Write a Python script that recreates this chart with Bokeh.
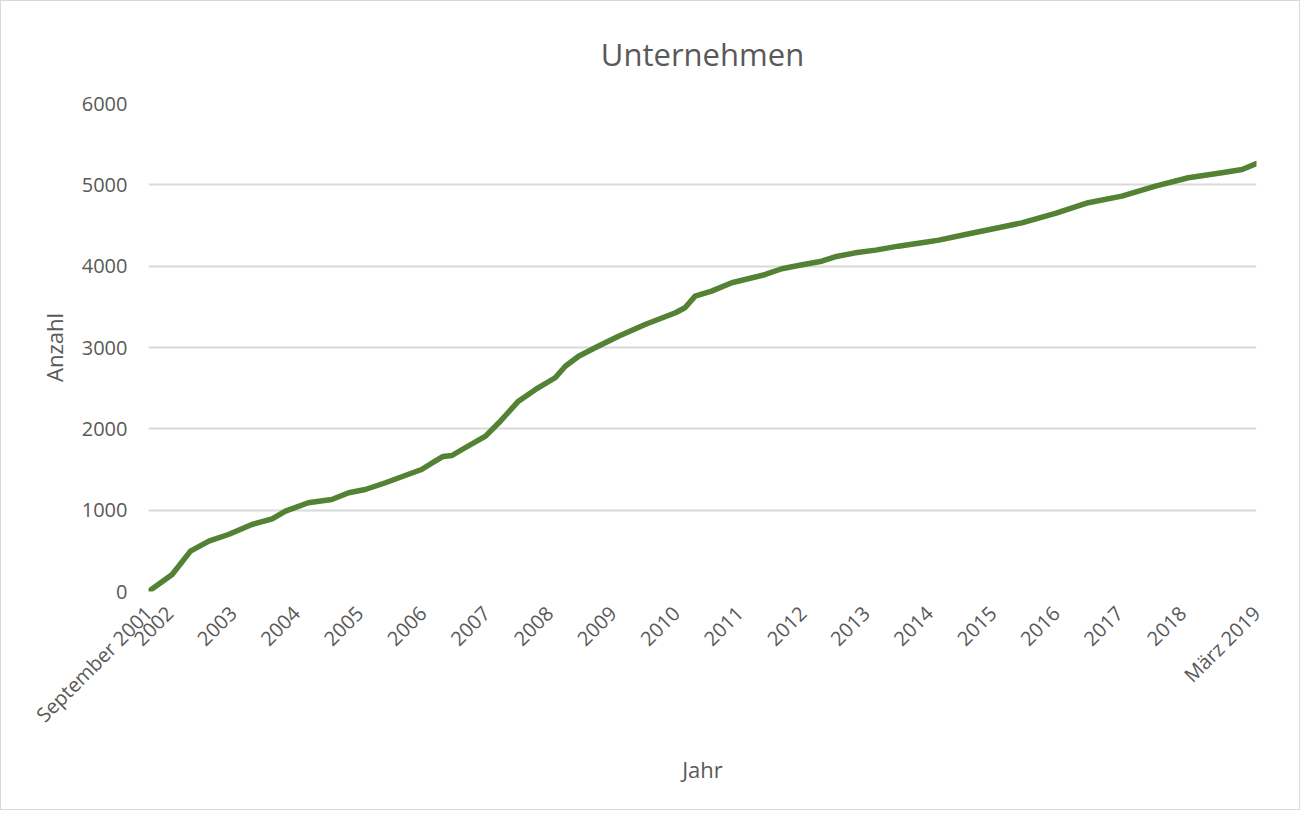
from bokeh.plotting import figure
from bokeh.models import Range1d, FixedTicker, ColumnDataSource
from bokeh.embed import file_html
from bokeh.resources import INLINE

# Data (decimal year, number of companies)
jahr = [2001.67, 2002.04, 2002.33, 2002.62, 2002.93, 2003.30, 2003.62, 2003.83,
        2004.19, 2004.56, 2004.83, 2005.09, 2005.41, 2005.72, 2005.98, 2006.20,
        2006.32, 2006.46, 2006.62, 2006.99, 2007.20, 2007.51, 2007.78, 2008.09,
        2008.25, 2008.46, 2008.72, 2009.09, 2009.51, 2009.99, 2010.14, 2010.30,
        2010.56, 2010.88, 2011.41, 2011.67, 2011.93, 2012.30, 2012.51, 2012.83,
        2013.15, 2013.51, 2013.88, 2014.15, 2014.57, 2015.09, 2015.46, 2015.99,
        2016.51, 2017.04, 2017.57, 2018.09, 2018.62, 2018.94, 2019.17]
anzahl = [0, 209, 496, 619, 701, 824, 894, 988,
          1091, 1131, 1214, 1254, 1337, 1426, 1500, 1605,
          1660, 1672, 1746, 1910, 2074, 2340, 2484, 2628,
          2770, 2893, 2996, 3139, 3283, 3427, 3488, 3631,
          3693, 3796, 3898, 3968, 4008, 4061, 4115, 4164,
          4197, 4246, 4287, 4320, 4390, 4472, 4533, 4648,
          4780, 4861, 4984, 5087, 5148, 5188, 5262]

# Tick labels (months since September 2001)
tick_monate = [0] + [4 + 12 * i for i in range(17)] + [210]
tick_labels = ["September 2001"] + [str(2002 + i) for i in range(17)] + ["März 2019"]
y_ticks = [0, 1000, 2000, 3000, 4000, 5000, 6000]

start = 2001 + 8 / 12.0
monate = [(j - start) * 12 for j in jahr]
monate[0] = 0
monate[-1] = 210
src = ColumnDataSource(dict(x=monate, y=anzahl))

FONT = "Open Sans"
GREY = "#595959"

p = figure(width=1298, height=808, output_backend="svg", toolbar_location=None,
           x_range=Range1d(0, 210), y_range=Range1d(0, 6000),
           frame_width=1108, frame_height=488,
           min_border_left=147, min_border_right=43, min_border_top=102, min_border_bottom=218,
           title="Unternehmen")
p.styles = {"border": "1px solid #d9d9d9"}

p.title.align = "center"
p.title.text_font = FONT
p.title.text_font_size = "31px"
p.title.text_font_style = "normal"
p.title.text_color = GREY
p.title.standoff = 58

p.line("x", "y", source=src, line_color="#548235", line_width=5.5, line_cap="round", line_join="round")

p.outline_line_color = None
p.xgrid.grid_line_color = None
p.ygrid.grid_line_color = "#d9d9d9"
p.ygrid.grid_line_width = 2

p.xaxis.ticker = FixedTicker(ticks=tick_monate)
p.xaxis.major_label_overrides = {t: l for t, l in zip(tick_monate, tick_labels)}
p.xaxis.major_label_orientation = 0.7854
p.yaxis.ticker = FixedTicker(ticks=y_ticks)

for ax in (p.xaxis[0], p.yaxis[0]):
    ax.axis_line_color = None
    ax.major_tick_line_color = None
    ax.minor_tick_line_color = None
    ax.major_label_text_font = FONT
    ax.major_label_text_font_size = "20px"
    ax.major_label_text_color = GREY
    ax.axis_label_text_font = FONT
    ax.axis_label_text_font_size = "22px"
    ax.axis_label_text_font_style = "normal"
    ax.axis_label_text_color = GREY

p.xaxis.axis_label = "Jahr"
p.yaxis.axis_label = "Anzahl"
p.yaxis.major_label_standoff = 15
p.yaxis.axis_label_standoff = 10
p.xaxis.major_label_standoff = 12
p.xaxis.axis_label_standoff = 14

open("out.html", "w").write(file_html(p, INLINE))
